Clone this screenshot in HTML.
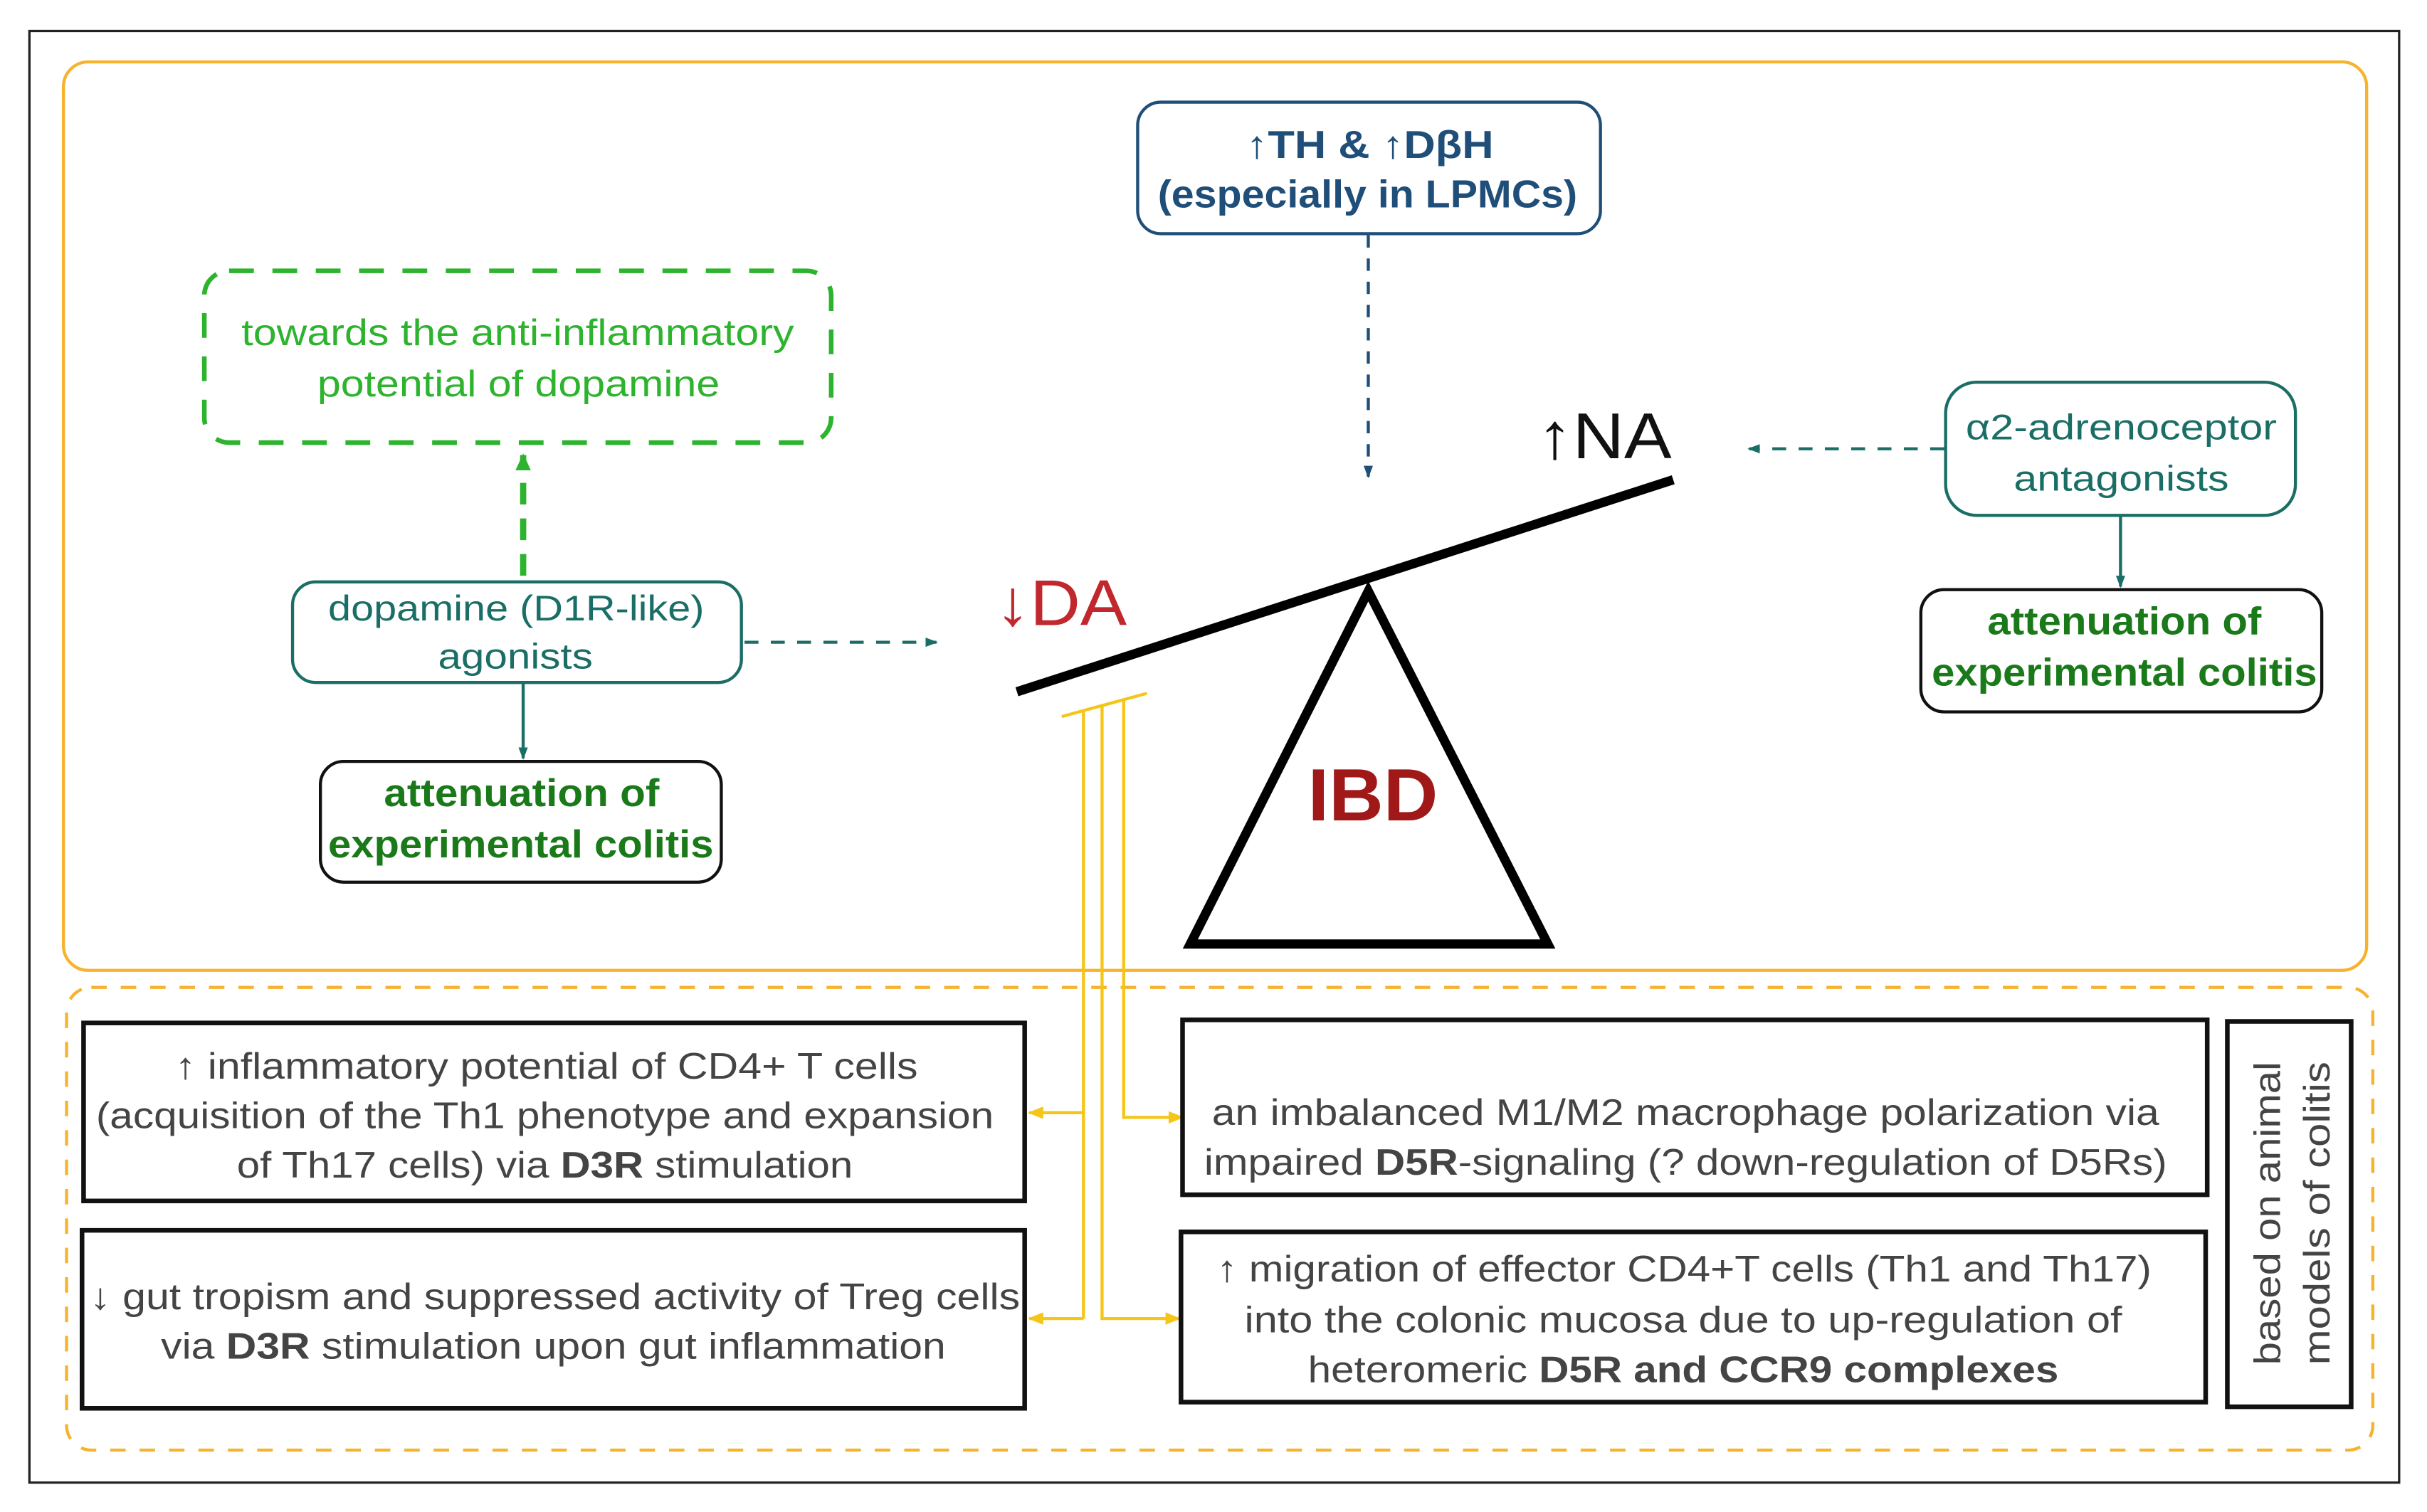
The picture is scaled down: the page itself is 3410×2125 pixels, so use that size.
<!DOCTYPE html>
<html><head><meta charset="utf-8"><style>
html,body{margin:0;padding:0;background:#fff}
svg{display:block}
text{font-family:"Liberation Sans",sans-serif}
</style></head><body>
<svg width="3410" height="2125" viewBox="0 0 1568 977" preserveAspectRatio="none" xmlns="http://www.w3.org/2000/svg">
<defs>
<marker id="aT" markerWidth="8" markerHeight="8" refX="7" refY="4" orient="auto" markerUnits="userSpaceOnUse"><path d="M0,1 L8,4 L0,7 z" fill="#1a6e66"/></marker>
<marker id="aB" markerWidth="8" markerHeight="8" refX="7" refY="4" orient="auto" markerUnits="userSpaceOnUse"><path d="M0,1 L8,4 L0,7 z" fill="#1f4e79"/></marker>
<marker id="aG" markerWidth="12" markerHeight="12" refX="10" refY="6" orient="auto" markerUnits="userSpaceOnUse"><path d="M0,1 L11,6 L0,11 z" fill="#2db32d"/></marker>
<marker id="aY" markerWidth="10" markerHeight="10" refX="9" refY="5" orient="auto" markerUnits="userSpaceOnUse"><path d="M0,1 L10,5 L0,9 z" fill="#f5c518"/></marker>
</defs>
<rect x="0" y="0" width="1568" height="977" fill="#fff"/>
<rect x="19" y="20" width="1531" height="938" fill="none" stroke="#222" stroke-width="1.5"/>
<rect x="41" y="40" width="1488" height="587" rx="16" fill="none" stroke="#f7b22e" stroke-width="2"/>
<rect x="43" y="638" width="1490" height="299" rx="16" fill="none" stroke="#f7b22e" stroke-width="2" stroke-dasharray="10,9"/>

<rect x="735" y="66" width="299" height="85" rx="15" fill="#fff" stroke="#1f4e79" stroke-width="2"/>
<text x="805" y="102" font-size="25" font-weight="bold" fill="#1f4e79" textLength="160" lengthAdjust="spacingAndGlyphs">↑TH &amp; ↑DβH</text>
<text x="748" y="134" font-size="25" font-weight="bold" fill="#1f4e79" textLength="271" lengthAdjust="spacingAndGlyphs">(especially in LPMCs)</text>
<line x1="884" y1="152" x2="884" y2="308" stroke="#1f4e79" stroke-width="2" stroke-dasharray="8,7" marker-end="url(#aB)"/>

<rect x="132" y="175" width="405" height="111" rx="16" fill="none" stroke="#2db32d" stroke-width="3" stroke-dasharray="16,12"/>
<text x="156" y="223" font-size="24" fill="#2db32d" textLength="357" lengthAdjust="spacingAndGlyphs">towards the anti-inflammatory</text>
<text x="205" y="256" font-size="24" fill="#2db32d" textLength="260" lengthAdjust="spacingAndGlyphs">potential of dopamine</text>
<line x1="338" y1="372" x2="338" y2="294" stroke="#2db32d" stroke-width="4" stroke-dasharray="14,9" marker-end="url(#aG)"/>

<rect x="189" y="376" width="290" height="65" rx="15" fill="#fff" stroke="#1a6e66" stroke-width="2"/>
<text x="212" y="401" font-size="23" fill="#1a6e66" textLength="243" lengthAdjust="spacingAndGlyphs">dopamine (D1R-like)</text>
<text x="283" y="432" font-size="23" fill="#1a6e66" textLength="100" lengthAdjust="spacingAndGlyphs">agonists</text>
<line x1="481" y1="415" x2="605" y2="415" stroke="#1a6e66" stroke-width="2" stroke-dasharray="9,8" marker-end="url(#aT)"/>
<line x1="338" y1="441" x2="338" y2="490" stroke="#1a6e66" stroke-width="2" marker-end="url(#aT)"/>
<rect x="207" y="492" width="259" height="78" rx="15" fill="#fff" stroke="#111" stroke-width="2"/>
<text x="248" y="521" font-size="25" font-weight="bold" fill="#1a7a1a" textLength="178" lengthAdjust="spacingAndGlyphs">attenuation of</text>
<text x="212" y="554" font-size="25" font-weight="bold" fill="#1a7a1a" textLength="249" lengthAdjust="spacingAndGlyphs">experimental colitis</text>

<rect x="1257" y="247" width="226" height="86" rx="20" fill="#fff" stroke="#1a6e66" stroke-width="2"/>
<text x="1270" y="284" font-size="23" fill="#1a6e66" textLength="201" lengthAdjust="spacingAndGlyphs">α2-adrenoceptor</text>
<text x="1301" y="317" font-size="23" fill="#1a6e66" textLength="139" lengthAdjust="spacingAndGlyphs">antagonists</text>
<line x1="1256" y1="290" x2="1130" y2="290" stroke="#1a6e66" stroke-width="2" stroke-dasharray="9,8" marker-end="url(#aT)"/>
<line x1="1370" y1="333" x2="1370" y2="379" stroke="#1a6e66" stroke-width="2" marker-end="url(#aT)"/>
<rect x="1241" y="381" width="259" height="79" rx="15" fill="#fff" stroke="#111" stroke-width="2"/>
<text x="1284" y="410" font-size="25" font-weight="bold" fill="#1a7a1a" textLength="177" lengthAdjust="spacingAndGlyphs">attenuation of</text>
<text x="1248" y="443" font-size="25" font-weight="bold" fill="#1a7a1a" textLength="249" lengthAdjust="spacingAndGlyphs">experimental colitis</text>

<text x="643" y="404" font-size="42" fill="#c0282d" textLength="85" lengthAdjust="spacingAndGlyphs">↓DA</text>
<text x="993" y="296" font-size="42" fill="#111" textLength="87" lengthAdjust="spacingAndGlyphs">↑NA</text>
<polygon points="884,382 769,610 1000,610" fill="none" stroke="#000" stroke-width="6" stroke-linejoin="miter"/>
<line x1="657" y1="447" x2="1081" y2="310" stroke="#000" stroke-width="6"/>
<text x="845" y="530" font-size="48" font-weight="bold" fill="#a01818" textLength="84" lengthAdjust="spacingAndGlyphs">IBD</text>

<g stroke="#f5c518" stroke-width="2" fill="none">
<line x1="686" y1="463" x2="741" y2="448"/>
<polyline points="700,459 700,852"/>
<line x1="700" y1="719" x2="665" y2="719" marker-end="url(#aY)"/>
<line x1="700" y1="852" x2="665" y2="852" marker-end="url(#aY)"/>
<polyline points="712,456 712,852 762,852" marker-end="url(#aY)"/>
<polyline points="726,452 726,722 764,722" marker-end="url(#aY)"/>
</g>

<g fill="none" stroke="#111" stroke-width="3">
<rect x="54" y="661" width="608" height="115"/>
<rect x="53" y="795" width="609" height="115"/>
<rect x="764" y="659" width="662" height="113"/>
<rect x="763" y="796" width="662" height="110"/>
<rect x="1439" y="660" width="80" height="249"/>
</g>
<g font-size="24" fill="#444" lengthAdjust="spacingAndGlyphs">
<text x="113" y="697" textLength="480" lengthAdjust="spacingAndGlyphs">↑ inflammatory potential of CD4+ T cells</text>
<text x="62" y="729" textLength="580" lengthAdjust="spacingAndGlyphs">(acquisition of the Th1 phenotype and expansion</text>
<text x="153" y="761" textLength="398" lengthAdjust="spacingAndGlyphs">of Th17 cells) via <tspan font-weight="bold">D3R</tspan> stimulation</text>
<text x="58" y="846" textLength="601" lengthAdjust="spacingAndGlyphs">↓ gut tropism and suppressed activity of Treg cells</text>
<text x="104" y="878" textLength="507" lengthAdjust="spacingAndGlyphs">via <tspan font-weight="bold">D3R</tspan> stimulation upon gut inflammation</text>
<text x="783" y="727" textLength="612" lengthAdjust="spacingAndGlyphs">an imbalanced M1/M2 macrophage polarization via</text>
<text x="778" y="759" textLength="622" lengthAdjust="spacingAndGlyphs">impaired <tspan font-weight="bold">D5R</tspan>-signaling (? down-regulation of D5Rs)</text>
<text x="786" y="828" textLength="604" lengthAdjust="spacingAndGlyphs">↑ migration of effector CD4+T cells (Th1 and Th17)</text>
<text x="804" y="861" textLength="567" lengthAdjust="spacingAndGlyphs">into the colonic mucosa due to up-regulation of</text>
<text x="845" y="893" textLength="485" lengthAdjust="spacingAndGlyphs">heteromeric <tspan font-weight="bold">D5R and CCR9 complexes</tspan></text>
</g>
<g font-size="24" fill="#444">
<text transform="translate(1473,882) rotate(-90)" textLength="196" lengthAdjust="spacingAndGlyphs">based on animal</text>
<text transform="translate(1505,882) rotate(-90)" textLength="196" lengthAdjust="spacingAndGlyphs">models of colitis</text>
</g>
</svg>
</body></html>
